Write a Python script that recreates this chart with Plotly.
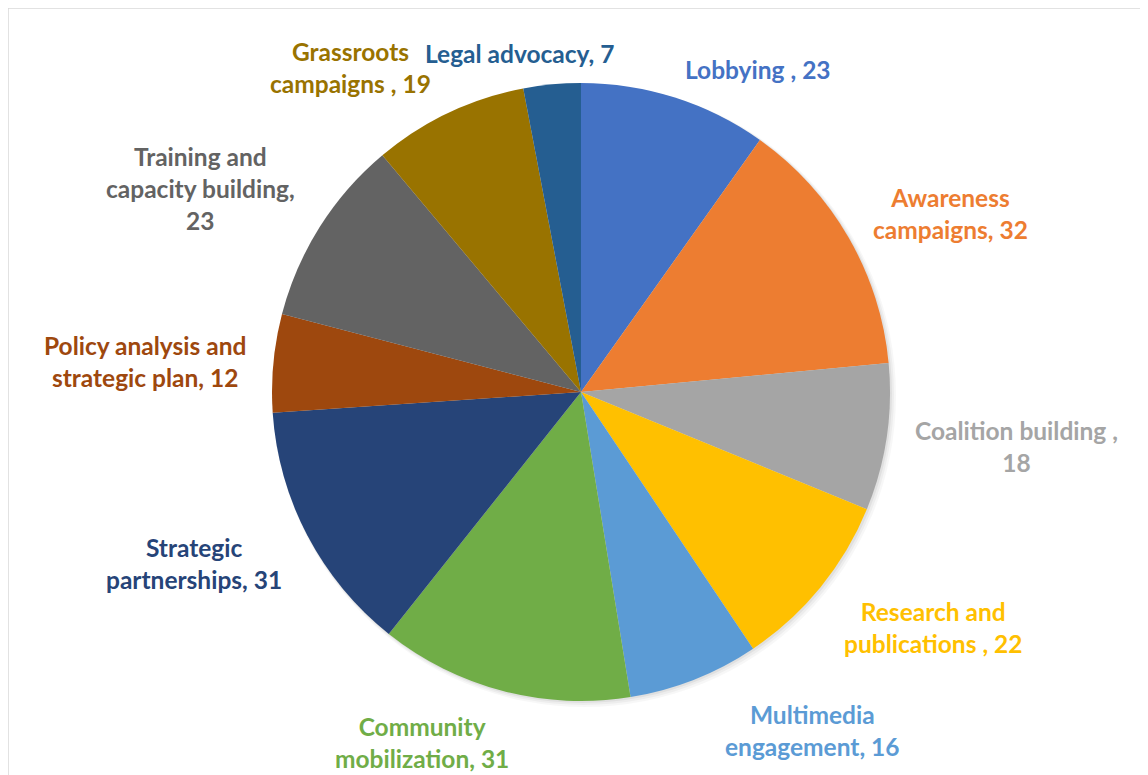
import plotly.graph_objects as go

categories = ["Lobbying", "Awareness campaigns", "Coalition building", "Research and publications",
              "Multimedia engagement", "Community mobilization", "Strategic partnerships",
              "Policy analysis and strategic plan", "Training and capacity building",
              "Grassroots campaigns", "Legal advocacy"]
values = [23, 32, 18, 22, 16, 31, 31, 12, 23, 19, 7]
label_texts = ["Lobbying , 23", "Awareness<br>campaigns, 32", "Coalition building ,<br>18",
               "Research and<br>publications , 22", "Multimedia<br>engagement, 16",
               "Community<br>mobilization, 31", "Strategic<br>partnerships, 31",
               "Policy analysis and<br>strategic plan, 12", "Training and<br>capacity building,<br>23",
               "Grassroots<br>campaigns , 19", "Legal advocacy, 7"]

colors = ["#4472C4", "#ED7D31", "#A5A5A5", "#FFC000", "#5B9BD5", "#70AD47",
          "#264478", "#9E480E", "#636363", "#997300", "#255E91"]

W, H = 1148, 775
OFF = 8  # page body margin
cx, cy, r = 581 - OFF, 392 - OFF, 309
# label centres in window pixels (layout only)
label_px = [(758, 70), (950, 213), (1016, 447), (933, 627), (812, 730), (422, 742),
            (194, 563), (145, 361), (200, 189), (350, 67), (520, 54)]

fig = go.Figure()
fig.add_trace(go.Pie(
    labels=categories, values=values, sort=False, direction="clockwise", rotation=0,
    marker=dict(colors=colors, line=dict(width=0)), textinfo="none", hoverinfo="label+value",
    domain=dict(x=[(cx - r) / W, (cx + r) / W], y=[(H - cy - r) / H, (H - cy + r) / H]),
    showlegend=False,
))

# soft shadow behind pie
for i, a in enumerate([0.05, 0.04, 0.03]):
    d = 2 + i * 2
    fig.add_shape(type="circle", xref="paper", yref="paper", layer="below",
                  x0=(cx - r + 1) / W, x1=(cx + r + d) / W,
                  y0=(H - cy - r - d) / H, y1=(H - cy + r - 1) / H,
                  fillcolor=f"rgba(0,0,0,{a})", line=dict(width=0))

for txt, (px, py), col in zip(label_texts, label_px, colors):
    fig.add_annotation(x=(px - OFF) / W, y=1 - (py - OFF) / H, xref="paper", yref="paper",
                       text=f"<b>{txt}</b>",
                       showarrow=False, xanchor="center", yanchor="middle",
                       font=dict(family="Lato, Open Sans, sans-serif", size=24.5, color=col),
                       align="center")

# chart frame
fig.add_shape(type="rect", xref="paper", yref="paper", x0=0, x1=1.01, y0=-0.01, y1=1.0,
              line=dict(color="#D9D9D9", width=1.5), fillcolor="rgba(0,0,0,0)", layer="below")

fig.update_layout(width=W, height=H, margin=dict(l=0, r=0, t=0, b=0),
                  paper_bgcolor="white", plot_bgcolor="white")
fig.write_html("out.html")
